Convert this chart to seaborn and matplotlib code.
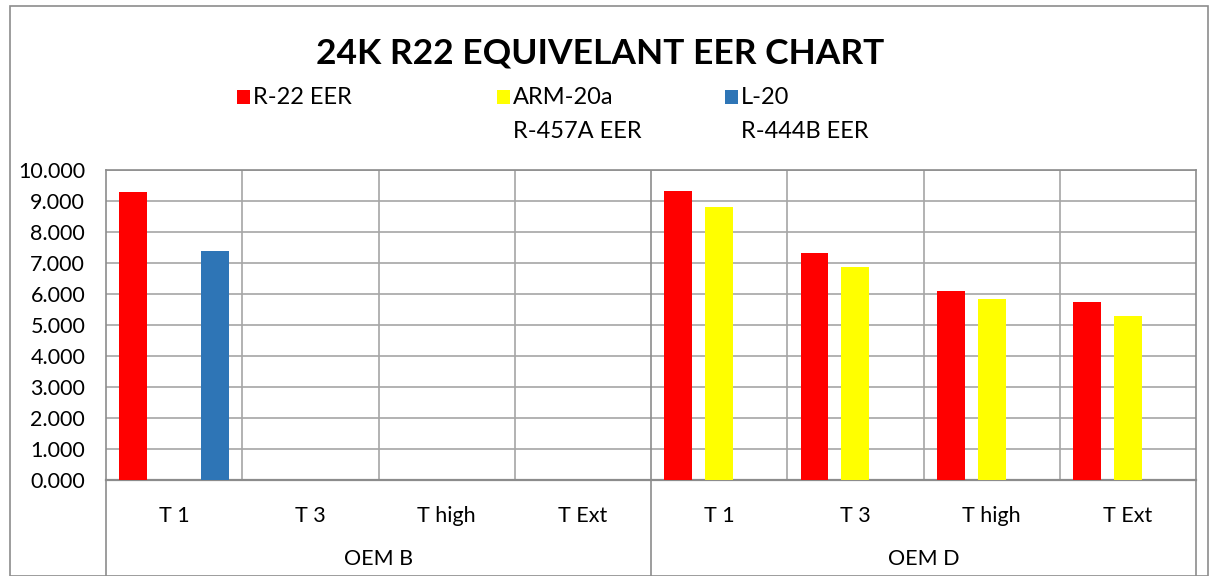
import matplotlib
matplotlib.use("Agg")
import matplotlib.pyplot as plt
import seaborn as sns
import numpy as np
import pandas as pd
from matplotlib.patches import Rectangle
from matplotlib.transforms import blended_transform_factory

# ---------------- data ----------------
groups = ["OEM B", "OEM B", "OEM B", "OEM B", "OEM D", "OEM D", "OEM D", "OEM D"]
subcats = ["T 1", "T 3", "T high", "T Ext", "T 1", "T 3", "T high", "T Ext"]
series_names = ["R-22 EER", "ARM-20a\nR-457A EER", "L-20\nR-444B EER"]
series_colors = ["#FF0000", "#FFFF00", "#2E75B6"]
r22_eer = [9.28, np.nan, np.nan, np.nan, 9.32, 7.33, 6.10, 5.74]
arm20a_eer = [np.nan, np.nan, np.nan, np.nan, 8.80, 6.87, 5.83, 5.28]
l20_eer = [7.38, np.nan, np.nan, np.nan, np.nan, np.nan, np.nan, np.nan]
title = "24K R22 EQUIVELANT EER CHART"
yticks = [0, 1, 2, 3, 4, 5, 6, 7, 8, 9, 10]

keys = [f"{g}|{s}" for g, s in zip(groups, subcats)]
rows = []
for name, vals in zip(series_names, [r22_eer, arm20a_eer, l20_eer]):
    for k, v in zip(keys, vals):
        rows.append({"cat": k, "series": name, "EER": v})
df = pd.DataFrame(rows)

# ---------------- style ----------------
sns.set_theme(style="white")
plt.rcParams['font.family'] = ['Lato', 'DejaVu Sans']
GRID = "#a6a6a6"
AXC = "#8c8c8c"
FS = 15.5

W, H = 1211, 576
fig = plt.figure(figsize=(W / 100, H / 100), dpi=100)
ax = fig.add_axes([106 / W, 96 / H, 1090 / W, 310 / H])

sns.barplot(data=df, x="cat", y="EER", hue="series", order=keys,
            hue_order=series_names, palette=series_colors, errorbar=None,
            width=0.9, gap=0.315, linewidth=0, saturation=1, ax=ax,
            legend=False, zorder=3)

ax.set_xlim(-0.5, len(keys) - 0.5)
ax.set_ylim(0, 10)
ax.set_yticks(yticks)
ax.set_yticklabels([f"{v:.3f}" for v in yticks], fontsize=FS, color="#000000")
ax.tick_params(axis="y", length=0, pad=15)
ax.set_xlabel("")
ax.set_ylabel("")
for y in yticks[1:]:
    ax.axhline(y, color=GRID, lw=1.2, zorder=1)
for x in np.arange(0.5, len(keys) - 1, 1.0):
    ax.axvline(x, color=GRID if x != 3.5 else AXC, lw=1.2, zorder=1)
for sp in ax.spines.values():
    sp.set_color(AXC)
    sp.set_linewidth(1.2)
ax.spines["bottom"].set_linewidth(1.6)

# category axis labels (two levels)
ax.set_xticks(range(len(keys)))
ax.set_xticklabels(subcats, fontsize=FS, color="#000000")
ax.tick_params(axis="x", length=0, pad=19)
trans = blended_transform_factory(ax.transData, ax.transAxes)
for x in [-0.5, 3.5, 7.5]:
    ax.plot([x, x], [0, -96 / 310], transform=trans, clip_on=False,
            color=AXC, lw=1.2)
uniq_groups = list(dict.fromkeys(groups))
for g in uniq_groups:
    idx = [i for i, gg in enumerate(groups) if gg == g]
    ax.text(np.mean(idx), -79 / 310, g, transform=trans, ha="center",
            va="center", fontsize=FS, color="#000000")

# title
fig.text(600 / W, 1 - 54 / H, title, ha="center", va="center",
         fontsize=25.5, fontweight="bold", color="#000000")

# legend
leg_x = [237, 497, 725]
for lx, name, col in zip(leg_x, series_names, series_colors):
    fig.add_artist(Rectangle((lx / W, 1 - 104 / H), 13 / W, 14 / H,
                             transform=fig.transFigure, facecolor=col,
                             edgecolor="none"))
    lines = name.split("\n")
    for j, ln in enumerate(lines):
        fig.text((lx + 16) / W, 1 - (97 + 35 * j) / H, ln, ha="left",
                 va="center", fontsize=17, color="#000000")

# outer chart border
fig.add_artist(Rectangle((10 / W, 0.5 / H), 1198 / W, 570 / H,
                         transform=fig.transFigure, fill=False,
                         edgecolor=AXC, lw=1.2))

fig.savefig("out.png", dpi=100)
